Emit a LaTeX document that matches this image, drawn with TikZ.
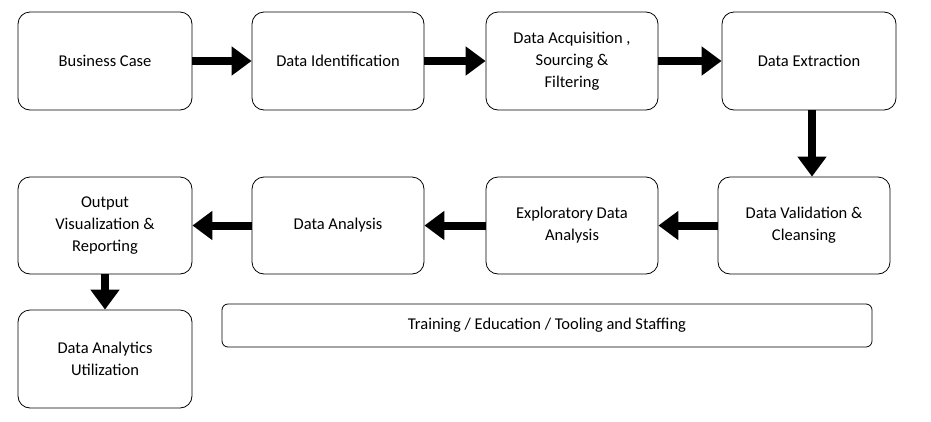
\documentclass[tikz,border=0pt]{standalone}
\usepackage{fontspec}
\setmainfont{Carlito}
\usetikzlibrary{arrows.meta}
\begin{document}
\begin{tikzpicture}[x=1pt,y=-1pt,
  box/.style={draw,thick,rounded corners=12pt,align=center,font=\fontsize{16.5}{22}\selectfont},
  arr/.style={line width=8pt,-{Triangle[length=20pt,width=28pt]}}]
\useasboundingbox (0,0) rectangle (931,421);
\node[box,minimum width=174pt,minimum height=98pt] (bc) at (105,61) {Business Case};
\node[box,minimum width=172pt,minimum height=98pt] (di) at (338,61) {Data Identification};
\node[box,minimum width=172pt,minimum height=98pt] (da) at (572,61) {Data Acquisition ,\\Sourcing \&\\Filtering};
\node[box,minimum width=174pt,minimum height=98pt] (de) at (809,61) {Data Extraction};
\node[box,minimum width=174pt,minimum height=97pt] (ov) at (105,225.5) {Output\\Visualization \&\\Reporting};
\node[box,minimum width=172pt,minimum height=97pt] (an) at (338,225.5) {Data Analysis};
\node[box,minimum width=172pt,minimum height=97pt] (ex) at (572,225.5) {Exploratory Data\\Analysis};
\node[box,minimum width=172pt,minimum height=97pt] (dv) at (804,225.5) {Data Validation \&\\Cleansing};
\node[box,minimum width=174pt,minimum height=98pt] (du) at (105,359) {Data Analytics\\Utilization};
\node[box,rounded corners=6pt,minimum width=650pt,minimum height=43pt] (tr) at (547,325.5) {Training / Education / Tooling and Staffing};
\draw[arr] (bc.east) -- (di.west);
\draw[arr] (di.east) -- (da.west);
\draw[arr] (da.east) -- (de.west);
\draw[arr] (de.south -| 812,0) -- (dv.north -| 812,0);
\draw[arr] (dv.west) -- (ex.east);
\draw[arr] (ex.west) -- (an.east);
\draw[arr] (an.west) -- (ov.east);
\draw[arr] (ov.south) -- (du.north);
\end{tikzpicture}
\end{document}
